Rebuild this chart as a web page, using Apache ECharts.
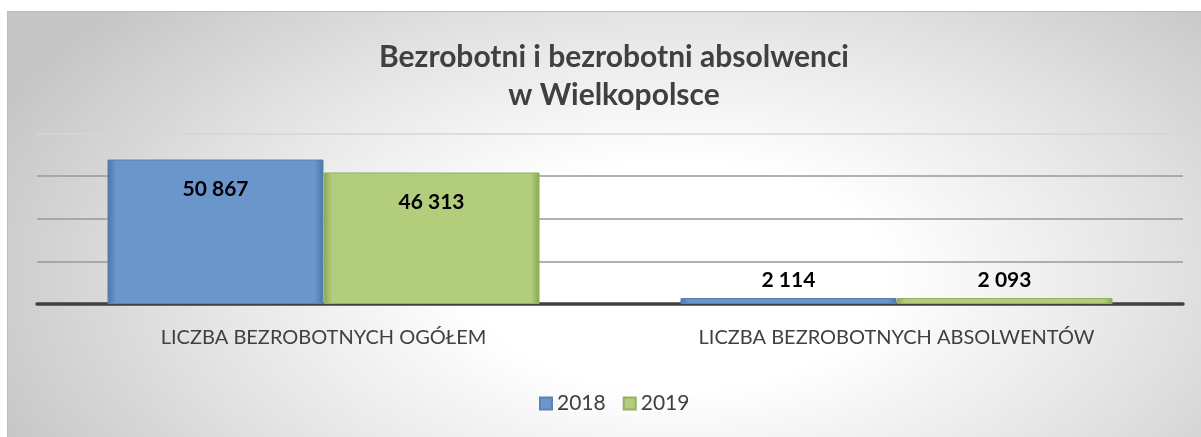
<!DOCTYPE html>
<html>
<head>
<meta charset="utf-8">
<script src="https://cdn.jsdelivr.net/npm/echarts@6/dist/echarts.min.js"></script>
<style>
  html, body { margin: 0; padding: 0; background: #fff; }
  #bg {
    position: absolute; left: 7px; top: 11px; width: 1194px; height: 426px;
    border-top: 1px solid #bdbdbd; border-left: 1px solid #bdbdbd;
    box-sizing: border-box;
    background: radial-gradient(ellipse 62% 95% at 56% 62%, #ffffff 28%, #e6e6e6 62%, #c6c6c6 100%);
  }
  #main { position: absolute; left: 0; top: 0; width: 1201px; height: 437px; }
</style>
</head>
<body>
<div id="bg"></div>
<div id="main"></div>
<script>
    var categories = ['LICZBA BEZROBOTNYCH OGÓŁEM', 'LICZBA BEZROBOTNYCH ABSOLWENTÓW'];
    var seriesNames = ['2018', '2019'];
    var values2018 = [50867, 2114];
    var values2019 = [46313, 2093];
    var yTicks = [0, 15000, 30000, 45000, 60000];

    function spaced(v) {
        return String(v).replace(/\B(?=(\d{3})+(?!\d))/g, ' ');
    }

    // bevel-ish look: dark edges, lighter middle
    function barFill(edge, mid) {
        return new echarts.graphic.LinearGradient(0, 0, 1, 0, [
            { offset: 0, color: edge },
            { offset: 0.04, color: mid },
            { offset: 0.96, color: mid },
            { offset: 1, color: edge }
        ]);
    }

    function buildData(values) {
        return values.map(function (v) {
            var big = v > 10000;
            return {
                value: v,
                label: {
                    position: big ? 'insideTop' : 'top',
                    distance: big ? 19 : 7
                }
            };
        });
    }

    var labelStyle = {
        show: true,
        fontFamily: 'Lato',
        fontWeight: 'bold',
        fontSize: 21,
        color: '#000',
        formatter: function (p) { return spaced(p.value); }
    };

    var myChart = echarts.init(document.getElementById('main'));

    var option = {
        backgroundColor: 'transparent',
        title: {
            text: 'Bezrobotni i bezrobotni absolwenci\nw Wielkopolsce',
            left: 609,
            textAlign: 'center',
            top: 33,
            textStyle: {
                fontFamily: 'Lato',
                fontWeight: 'bold',
                fontSize: 30,
                lineHeight: 38,
                color: '#404040'
            }
        },
        legend: {
            data: seriesNames,
            bottom: 18,
            left: 534,
            itemWidth: 12,
            itemHeight: 12,
            itemGap: 17,
            icon: 'rect',
            textStyle: { fontFamily: 'Lato', fontSize: 21, color: '#404040' }
        },
        grid: { left: 37, right: 18, top: 133.6, bottom: 133 },
        xAxis: {
            type: 'category',
            data: categories,
            axisTick: { show: false },
            axisLine: { lineStyle: { color: '#404040', width: 3.5 } },
            axisLabel: {
                margin: 24,
                fontFamily: 'Lato',
                fontSize: 20,
                color: '#404040'
            }
        },
        yAxis: {
            type: 'value',
            min: yTicks[0],
            max: yTicks[yTicks.length - 1],
            interval: yTicks[1] - yTicks[0],
            axisLabel: { show: false },
            axisLine: { show: false },
            axisTick: { show: false },
            splitLine: {
                lineStyle: {
                    color: ['#999', '#999', '#999', '#999', '#d6d6d6'],
                    width: 1.5
                }
            }
        },
        series: [
            {
                name: seriesNames[0],
                type: 'bar',
                data: buildData(values2018),
                barGap: '0%',
                barCategoryGap: '24.6%',
                itemStyle: {
                    color: barFill('#4c75a8', '#6a96cb'),
                    borderColor: '#5a82b5',
                    borderWidth: 1
                },
                label: labelStyle
            },
            {
                name: seriesNames[1],
                type: 'bar',
                data: buildData(values2019),
                itemStyle: {
                    color: barFill('#8aa653', '#b2cd7c'),
                    borderColor: '#96b060',
                    borderWidth: 1
                },
                label: labelStyle
            }
        ]
    };

    myChart.setOption(option);
</script>
</body>
</html>
